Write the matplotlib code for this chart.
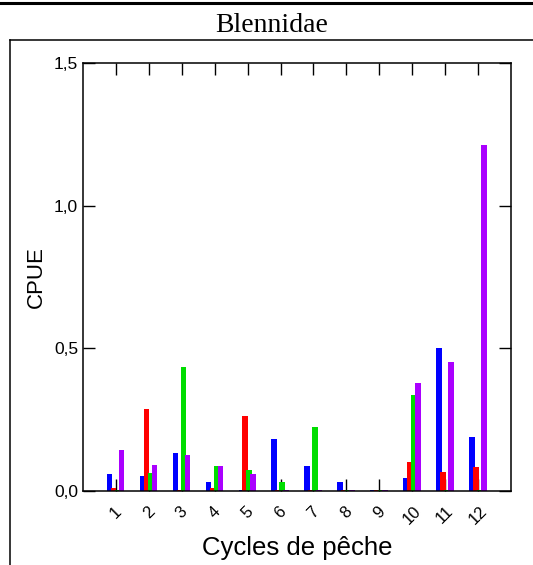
import matplotlib
matplotlib.use("Agg")
import matplotlib.pyplot as plt
from matplotlib.lines import Line2D
import numpy as np

plt.rcParams['font.family'] = ['Liberation Sans', 'DejaVu Sans']

title = "Blennidae"
cycles = [1, 2, 3, 4, 5, 6, 7, 8, 9, 10, 11, 12]
cycle_labels = ["1", "2", "3", "4", "5", "6", "7", "8", "9", "10", "11", "12"]
blue_vals = [0.058, 0.052, 0.134, 0.030, 0.002, 0.182, 0.087, 0.030, 0.003, 0.044, 0.501, 0.189]
red_vals = [0.009, 0.286, 0.003, 0.012, 0.262, 0.002, 0.002, 0.002, 0.003, 0.100, 0.066, 0.085]
green_vals = [0.003, 0.063, 0.435, 0.087, 0.072, 0.030, 0.224, 0.002, 0.003, 0.335, 0.003, 0.003]
purple_vals = [0.143, 0.090, 0.125, 0.088, 0.059, 0.002, 0.003, 0.002, 0.003, 0.378, 0.451, 1.214]
yticks = [0.0, 0.5, 1.0, 1.5]
ytick_labels = ["0,0", "0,5", "1,0", "1,5"]

series = [blue_vals, red_vals, green_vals, purple_vals]
colors = ["#0000ff", "#ff0000", "#00dd00", "#aa00ff"]

W, H = 533, 565
fig = plt.figure(figsize=(W / 100, H / 100), dpi=100)
ax = fig.add_axes([83 / W, 1 - 491 / H, (511 - 83) / W, (491 - 63) / H])

x = np.array(cycles, dtype=float)
step = 0.121
width = 0.17
for i, (vals, c) in enumerate(zip(series, colors)):
    ax.bar(x + (i - 1.5) * step - 0.01, vals, width=width, color=c, linewidth=0, zorder=3)

ax.set_xlim(0, 13)
ax.set_ylim(0, 1.5)
ax.set_yticks(yticks)
ax.set_yticklabels(ytick_labels, fontsize=12.5)
ax.set_xticks(cycles)
ax.set_xticklabels(cycle_labels, rotation=45, ha='center', va='top', fontsize=12)
ax.tick_params(axis='both', direction='in', length=8.6, width=1.0, colors='black',
               top=True, right=True)
ax.tick_params(axis='y', pad=3.5)
ax.tick_params(axis='x', pad=9)
for s in ax.spines.values():
    s.set_linewidth(1.1)
    s.set_zorder(4)
ax.set_ylabel("CPUE", fontsize=16, labelpad=5)
ax.set_xlabel("Cycles de pêche", fontsize=18.5, labelpad=6)

fig.text(272 / W, 1 - 25 / H, title, ha='center', va='center',
         fontsize=20, family=['Liberation Serif', 'DejaVu Serif'])

# frame lines
fig.add_artist(Line2D([0, 1], [1 - 2.5 / H, 1 - 2.5 / H], color='black', linewidth=2.2,
                      transform=fig.transFigure))
fig.add_artist(Line2D([10 / W, 1], [1 - 40 / H, 1 - 40 / H], color='black', linewidth=1.1,
                      transform=fig.transFigure))
fig.add_artist(Line2D([10 / W, 10 / W], [0, 1 - 40 / H], color='black', linewidth=1.1,
                      transform=fig.transFigure))

fig.savefig("out.png", dpi=100)
